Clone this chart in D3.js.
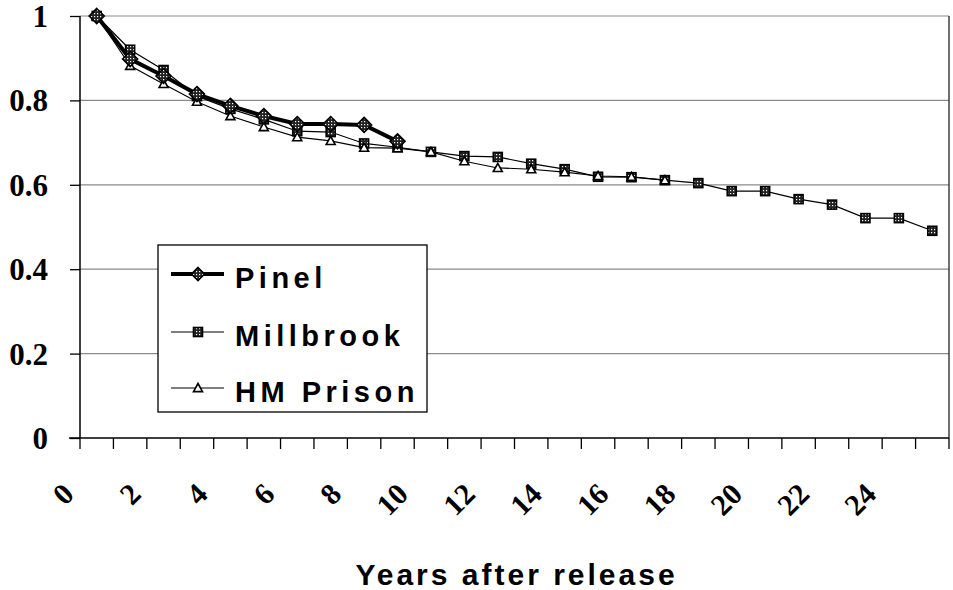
<!DOCTYPE html>
<html><head><meta charset="utf-8">
<script src="https://cdn.jsdelivr.net/npm/d3@7"></script>
<style>html,body{margin:0;padding:0;background:#fff}svg{display:block}</style>
</head><body>
<svg id="chart" width="953" height="590"></svg>
<script>
const categories = [0,1,2,3,4,5,6,7,8,9,10,11,12,13,14,15,16,17,18,19,20,21,22,23,24,25];
const xTickLabels = [0,2,4,6,8,10,12,14,16,18,20,22,24];
const yTicks = [0,0.2,0.4,0.6,0.8,1];
const pinel = [1.0,0.898,0.858,0.815,0.787,0.763,0.744,0.744,0.742,0.703];
const millbrook = [1.0,0.92,0.872,0.81,0.78,0.755,0.727,0.725,0.698,0.689,0.678,0.668,0.666,0.65,0.637,0.619,0.618,0.611,0.604,0.585,0.585,0.566,0.553,0.521,0.521,0.491];
const hmPrison = [1.0,0.882,0.839,0.797,0.763,0.737,0.713,0.704,0.688,0.687,0.678,0.656,0.64,0.637,0.63,0.621,0.619,0.611];
const seriesNames = ["Pinel","Millbrook","HM Prison"];

const svg = d3.select("#chart");
const L = 80, R = 949, T = 16, B = 438;
const x = d3.scaleBand().domain(categories).range([L, R]).paddingInner(0).paddingOuter(0);
const bw = x.bandwidth();
const cx = c => x(c) + bw / 2;
const y = d3.scaleLinear().domain([0, 1]).range([B, T]);

// pattern
const defs = svg.append("defs");
const pat = defs.append("pattern").attr("id","chk").attr("patternUnits","userSpaceOnUse").attr("width",3).attr("height",3);
pat.append("rect").attr("width",3).attr("height",3).attr("fill","#222");
pat.append("rect").attr("x",1).attr("y",1).attr("width",1.2).attr("height",1.2).attr("fill","#fff");

// gridlines
svg.append("g").selectAll("line").data(yTicks.filter(d => d > 0)).join("line")
  .attr("x1", L).attr("x2", R).attr("y1", d => y(d)).attr("y2", d => y(d))
  .attr("stroke", "#8a8a8a").attr("stroke-width", 1.2);
// right border
svg.append("line").attr("x1", R).attr("x2", R).attr("y1", T).attr("y2", B).attr("stroke", "#222").attr("stroke-width", 1.3);

// Y axis
const yAxis = svg.append("g").attr("transform", `translate(${L},0)`)
  .call(d3.axisLeft(y).tickValues(yTicks).tickSize(10).tickPadding(22).tickFormat(d => (d === 0 || d === 1) ? String(d) : d.toFixed(1)));
yAxis.select(".domain").attr("stroke", "#000").attr("stroke-width", 1.5).attr("d", `M0,${T}V${B}`);
yAxis.selectAll(".tick line").attr("stroke", "#000").attr("stroke-width", 1.3);
yAxis.selectAll(".tick text").attr("font-family", "'Liberation Serif', 'Times New Roman', serif")
  .attr("font-weight", "bold").attr("font-size", 31).attr("fill", "#000").attr("dy", "0.34em");

// X axis
svg.append("line").attr("x1", L - 11).attr("x2", R).attr("y1", B).attr("y2", B).attr("stroke", "#000").attr("stroke-width", 1.5);
const bounds = categories.map(c => x(c)).concat([R]);
svg.append("g").selectAll("line").data(bounds).join("line")
  .attr("x1", d => d).attr("x2", d => d).attr("y1", B).attr("y2", B + 11)
  .attr("stroke", "#000").attr("stroke-width", 1.3);
svg.append("g").selectAll("text").data(xTickLabels).join("text")
  .attr("transform", d => `translate(${cx(d) - 21},${B + 58}) rotate(-45)`)
  .attr("text-anchor", "end")
  .attr("font-family", "'Liberation Serif', 'Times New Roman', serif")
  .attr("font-weight", "bold").attr("font-size", 30).attr("fill", "#000")
  .text(d => d);

svg.append("text").attr("x", (L + R) / 2 + 2).attr("y", 585).attr("text-anchor", "middle")
  .attr("font-family", "'Liberation Sans', Arial, sans-serif").attr("font-weight", "bold")
  .attr("font-size", 30).attr("letter-spacing", 3).text("Years after release");

// lines
const line = d3.line().x((d, i) => cx(categories[i])).y(d => y(d));
function diamond(g, px, py, r) {
  g.append("path").attr("d", `M${px},${py - r}L${px + r},${py}L${px},${py + r}L${px - r},${py}Z`)
    .attr("fill", "url(#chk)").attr("stroke", "#000").attr("stroke-width", 1.6);
}
function square(g, px, py, r) {
  g.append("rect").attr("x", px - r).attr("y", py - r).attr("width", 2 * r).attr("height", 2 * r)
    .attr("fill", "url(#chk)").attr("stroke", "#000").attr("stroke-width", 1.6);
}
function tri(g, px, py, r) {
  g.append("path").attr("d", `M${px},${py - r}L${px + r},${py + r * 0.8}L${px - r},${py + r * 0.8}Z`)
    .attr("fill", "#fff").attr("stroke", "#000").attr("stroke-width", 1.6);
}

const gM = svg.append("g");
gM.append("path").datum(millbrook).attr("d", line).attr("fill", "none").attr("stroke", "#000").attr("stroke-width", 1.2);
millbrook.forEach((v, i) => square(gM, cx(categories[i]), y(v), 4.5));
const gH = svg.append("g");
gH.append("path").datum(hmPrison).attr("d", line).attr("fill", "none").attr("stroke", "#000").attr("stroke-width", 1.1);
hmPrison.forEach((v, i) => tri(gH, cx(categories[i]), y(v), 4.5));
const gP = svg.append("g");
gP.append("path").datum(pinel).attr("d", line).attr("fill", "none").attr("stroke", "#000").attr("stroke-width", 4);
pinel.forEach((v, i) => diamond(gP, cx(categories[i]), y(v), 7.5));

// legend
const lg = svg.append("g");
lg.append("rect").attr("x", 158).attr("y", 245).attr("width", 269).attr("height", 167)
  .attr("fill", "#fff").attr("stroke", "#000").attr("stroke-width", 1.3);
const rows = [274, 332, 388];
const lw = [4, 1.2, 1.1];
const markers = [(g, px, py) => diamond(g, px, py, 6.5), (g, px, py) => square(g, px, py, 4.5), (g, px, py) => tri(g, px, py, 4.5)];
seriesNames.forEach((name, i) => {
  lg.append("line").attr("x1", 171).attr("x2", 224).attr("y1", rows[i]).attr("y2", rows[i]).attr("stroke", "#000").attr("stroke-width", lw[i]);
  markers[i](lg, 198, rows[i]);
  lg.append("text").attr("x", 235).attr("y", rows[i] + 14).attr("font-family", "'Liberation Sans', Arial, sans-serif")
    .attr("font-weight", "bold").attr("font-size", 29).attr("letter-spacing", 4.5).text(name);
});
</script>
</body></html>
